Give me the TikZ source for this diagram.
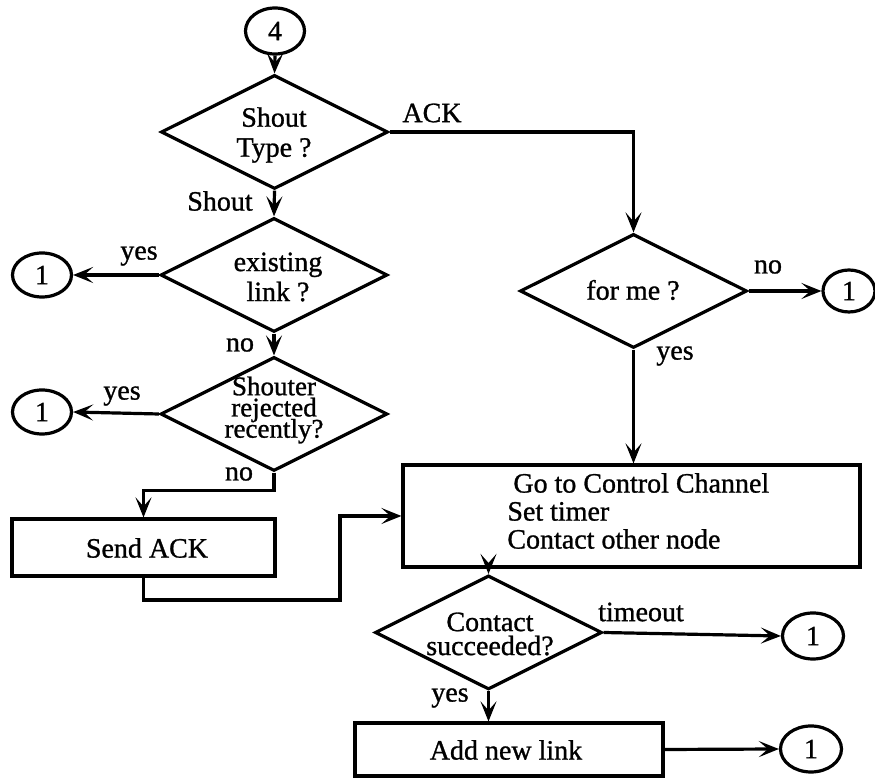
\documentclass[tikz,border=0pt]{standalone}
\usepackage{fontspec}
\setmainfont{Liberation Serif}[FakeBold=1]
\usetikzlibrary{shapes.geometric,arrows.meta}

\tikzset{
  flow/.style={line width=1.6pt},
  arr/.style={flow,-{Stealth[length=10pt,width=8pt,inset=4.5pt]}},
  dia/.style={draw,line width=1.6pt,diamond,inner sep=0pt,
    minimum width=113.5pt,minimum height=57pt},
  proc/.style={draw,line width=1.6pt,rectangle,inner sep=0pt},
  conn/.style={draw,line width=1.6pt,ellipse,inner sep=0pt,
    minimum width=29.5pt,minimum height=22pt,font=\fontsize{14}{15}\selectfont},
  txt/.style={align=center,inner sep=0pt,font=\fontsize{14}{15}\selectfont,
    execute at begin node={\lineskiplimit=-20pt\lineskip=0pt}},
  lbl/.style={inner sep=0pt,font=\fontsize{14}{15}\selectfont},
}

\begin{document}
\begin{tikzpicture}[x=0.5pt,y=-0.5pt]
\useasboundingbox (0,0) rectangle (875,780);

% connectors to other pages of the chart
\node[conn,minimum height=23pt] (c4) at (275,31) {4};
\node[conn] (c1a) at (42,275) {1};
\node[conn] (c1b) at (42,412) {1};
\node[conn,minimum width=26pt,minimum height=21pt] (c1c) at (849,291) {1};
\node[conn,minimum width=30.5pt,minimum height=23pt] (c1d) at (813,636) {1};
\node[conn,minimum width=30.5pt,minimum height=23pt] (c1e) at (811,749) {1};

% decisions
\node[dia] (dtype) at (274.5,132) {};
\node[txt] (ttype) at (274,135) {Shout\\Type ?};
\node[dia] (dlink) at (274,275) {};
\node[txt] (tlink) at (278,277) {existing\\link ?};
\node[dia] (drej) at (274,414) {};
\node[txt,font=\fontsize{13.5}{10.6}\selectfont] (trej) at (274,410) {Shouter\\rejected\\recently?};
\node[dia] (dfor) at (633.5,291) {};
\node[txt] (tfor) at (633,290) {for me ?};
\node[dia] (dcon) at (488.5,632.5) {};
\node[txt,font=\fontsize{14}{12}\selectfont] (tcon) at (490,634) {Contact\\succeeded?};

% processes
\node[proc,minimum width=131.5pt,minimum height=28.5pt] (send) at (143.5,547.5) {};
\node[txt] (tsend) at (147,548) {Send ACK};
\node[proc,minimum width=228.5pt,minimum height=51pt] (ctrl) at (631.5,516) {};
\node[txt,align=left,anchor=west,font=\fontsize{14}{14}\selectfont] (tctrl) at (507,511)
  {\hspace{3pt}Go to Control Channel\\Set timer\\Contact other node};
\node[proc,minimum width=154pt,minimum height=26.5pt] (add) at (509,749.5) {};
\node[txt] (tadd) at (506,750) {Add new link};

% branch labels
\node[lbl] (lack) at (432,113) {ACK};
\node[lbl] (lshout) at (220,201) {Shout};
\node[lbl] (lyes1) at (139,256) {yes};
\node[lbl] (lno1) at (240,345) {no};
\node[lbl] (lyes2) at (122,396) {yes};
\node[lbl] (lno2) at (239,474) {no};
\node[lbl] (lno3) at (768,267) {no};
\node[lbl] (lyes3) at (675,356) {yes};
\node[lbl] (ltime) at (641,612) {timeout};
\node[lbl] (lyes4) at (450,698) {yes};

% flow lines
\coordinate (j1) at (340,600);
\draw[arr] (c4.south) -- (dtype.north);
\draw[arr] (dtype.east) -| (dfor.north);
\draw[arr] (dtype.south) -- (dlink.north);
\draw[arr] (dlink.west) -- (c1a.east);
\draw[arr] (dlink.south) -- (drej.north);
\draw[arr] (drej.west) -- (c1b.east);
\draw[arr] (drej.south) -- ++(0,18) -| (send.north);
\draw[arr] (send.south) |- (j1) |- (ctrl.west);
\draw[arr] (dfor.east) -- (c1c.west);
\draw[arr] (dfor.south) -- (dfor.south |- ctrl.north);
\draw[arr] (dcon.north |- ctrl.south) -- (dcon.north);
\draw[arr] (dcon.east) -- (c1d.west);
\draw[arr] (dcon.south) -- (dcon.south |- add.north);
\draw[arr] (add.east) -- (c1e.west);
\end{tikzpicture}
\end{document}
